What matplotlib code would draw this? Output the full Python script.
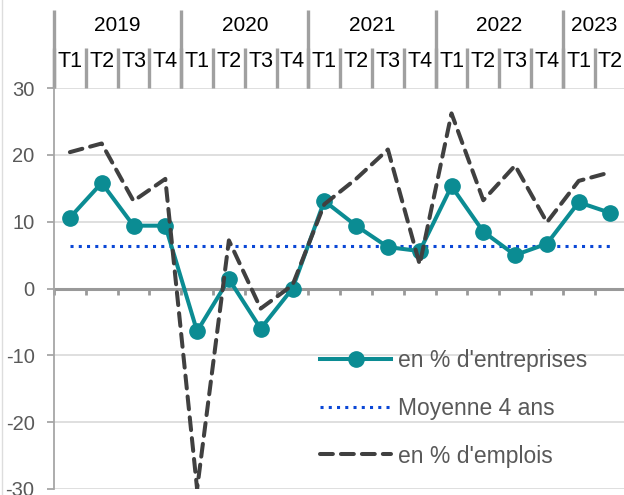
import numpy as np
import matplotlib
matplotlib.use("Agg")
import matplotlib.pyplot as plt
from matplotlib.lines import Line2D

plt.rcParams['font.family'] = ['Liberation Sans', 'DejaVu Sans']

# data
years = ['2019', '2020', '2021', '2022', '2023']
quarters_per_year = [4, 4, 4, 4, 2]
quarters = ['T1', 'T2', 'T3', 'T4'] * 4 + ['T1', 'T2']
entreprises = [10.6, 15.8, 9.4, 9.4, -6.4, 1.4, -6.0, 0.0, 13.1, 9.4,
               6.2, 5.6, 15.3, 8.5, 5.0, 6.7, 12.9, 11.3]
emplois = [20.4, 21.7, 13.1, 16.4, -30.0, 7.2, -3.0, 0.5, 12.6, 16.4,
           20.8, 3.6, 26.2, 13.2, 18.4, 9.9, 16.1, 17.4]
moyenne = [6.3] * 18

teal = '#0B8C93'
dark = '#404040'
blue = '#0A47D6'
axis_grey = '#A6A6A6'
text_grey = '#595959'

fig = plt.figure(figsize=(6.24, 4.95), dpi=100)
ax = fig.add_axes([54 / 624, 6 / 495, 572.4 / 624, 401 / 495])

x = np.arange(len(quarters))

ax.plot(x, entreprises, color=teal, lw=2.9, marker='o', markersize=11,
        label="en % d'entreprises", zorder=4)
ax.plot(x, moyenne, color=blue, lw=2.2, linestyle=(0, (1, 1.7)),
        label='Moyenne 4 ans', zorder=3)
ax.plot(x, emplois, color=dark, lw=2.9, linestyle=(0, (3.2, 2.0)),
        dash_capstyle='round', label="en % d'emplois", zorder=5)

ax.set_xlim(-0.5, len(quarters) - 0.5)
ax.set_ylim(-30, 30)
ax.set_yticks([-30, -20, -10, 0, 10, 20, 30])
ax.set_yticklabels(['-30', '-20', '-10', '0', '10', '20', '30'])
ax.grid(axis='y', color='#D9D9D9', lw=1.2)
ax.set_axisbelow(True)

for s in ['top', 'right']:
    ax.spines[s].set_visible(False)
ax.spines['left'].set_color(axis_grey)
ax.spines['left'].set_linewidth(1.3)
ax.spines['bottom'].set_position(('data', 0))
ax.spines['bottom'].set_color('#999999')
ax.spines['bottom'].set_linewidth(2.2)
ax.spines['bottom'].set_zorder(2)

ax.set_xticks(np.arange(-0.5, len(quarters), 1.0))
ax.set_xticklabels([])
ax.tick_params(axis='x', direction='out', length=4, width=2, color='#999999')
ax.tick_params(axis='y', direction='out', length=5, width=1.3, color=axis_grey,
               labelcolor=text_grey, labelsize=14.5, pad=9)

# header with quarters and years above the plot
tr = ax.get_xaxis_transform()
for i, q in enumerate(quarters):
    ax.text(i, 1.053, q, transform=tr, ha='center', va='baseline',
            fontsize=15.5, color='black')
for b in np.arange(-0.5, len(quarters), 1.0):
    ax.plot([b, b], [1.0, 1.1], transform=tr, color='#A0A0A0', lw=2.4,
            clip_on=False, solid_capstyle='butt')
start = 0
for y, n in zip(years, quarters_per_year):
    ax.plot([start - 0.5, start - 0.5], [1.0, 1.195], transform=tr,
            color='#A0A0A0', lw=2.4, clip_on=False, solid_capstyle='butt')
    ax.text(start + n / 2 - 0.5, 1.143, y, transform=tr, ha='center',
            va='baseline', fontsize=15, color='black')
    start += n

leg = ax.legend(loc='upper left', bbox_to_anchor=(320 / 624, 1 - 349 / 495),
                bbox_transform=fig.transFigure, frameon=False, fontsize=16.5,
                handlelength=3.1, handletextpad=0.3, labelspacing=1.08,
                borderpad=0, borderaxespad=0)
for t in leg.get_texts():
    t.set_color(text_grey)

# faint border on the left of the picture
fig.add_artist(Line2D([2 / 624, 2 / 624], [0, 1], transform=fig.transFigure,
                      color='#DDDDDD', lw=1))

fig.savefig('out.png', dpi=100)
